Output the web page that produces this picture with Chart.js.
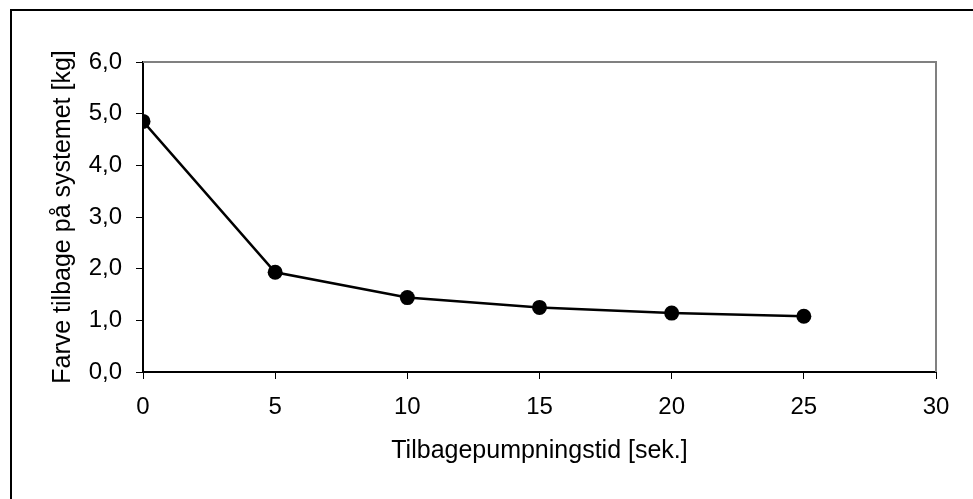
<!DOCTYPE html>
<html>
<head>
<meta charset="utf-8">
<script src="https://cdn.jsdelivr.net/npm/chart.js@4"></script>
<style>
  body { margin: 0; background: #fff; overflow: hidden; }
  #wrap { position: relative; width: 973px; height: 499px; }
  #frame { position: absolute; left: 10px; top: 9px; width: 1000px; height: 1000px;
           border-left: 2px solid #000; border-top: 2px solid #000; pointer-events: none; }
</style>
</head>
<body>
<div id="wrap">
  <canvas id="chart"></canvas>
  <div id="frame"></div>
</div>
<script>
// pumping time (sek.) and paint returned (kg)
const times = [0, 5, 10, 15, 20, 25];
const paintBack = [4.85, 1.93, 1.44, 1.25, 1.14, 1.08];

const xTitle = 'Tilbagepumpningstid [sek.]';
const yTitle = 'Farve tilbage på systemet [kg]';

const font = 'Liberation Sans, Arial, sans-serif';

// grey frame on top and right of the plot area
const plotFrame = {
    id: 'plotFrame',
    afterDraw(chart) {
        const { ctx, chartArea: a } = chart;
        ctx.save();
        ctx.strokeStyle = '#808080';
        ctx.lineWidth = 2;
        ctx.beginPath();
        ctx.moveTo(a.left, a.top);
        ctx.lineTo(a.right, a.top);
        ctx.lineTo(a.right, a.bottom);
        ctx.stroke();
        ctx.restore();
    }
};

const ctx = document.getElementById('chart').getContext('2d');
const myChart = new Chart(ctx, {
    type: 'line',
    data: {
        datasets: [{
            data: times.map((t, i) => ({ x: t, y: paintBack[i] })),
            borderColor: '#000',
            backgroundColor: '#000',
            borderWidth: 2.5,
            pointRadius: 7.5,
            pointBorderWidth: 0,
            pointBackgroundColor: '#000',
            tension: 0
        }]
    },
    options: {
        responsive: true,
        maintainAspectRatio: false,
        animation: false,
        layout: { padding: { left: 0, top: 62, right: 37, bottom: 0 } },
        plugins: {
            legend: { display: false },
            tooltip: { enabled: false }
        },
        scales: {
            x: {
                type: 'linear',
                min: 0,
                max: 30,
                ticks: {
                    stepSize: 5,
                    color: '#000',
                    padding: 14,
                    maxRotation: 0,
                    font: { family: font, size: 24 }
                },
                grid: { drawOnChartArea: false, tickLength: 7, color: '#000' },
                border: { color: '#000', width: 2 },
                title: {
                    display: true,
                    text: xTitle,
                    color: '#000',
                    padding: { top: 0, bottom: 33 },
                    font: { family: font, size: 25 }
                },
                afterFit(scale) { scale.height = 127; }
            },
            y: {
                min: 0,
                max: 6,
                ticks: {
                    stepSize: 1,
                    color: '#000',
                    padding: 14,
                    font: { family: font, size: 24 },
                    callback: v => v.toFixed(1).replace('.', ',')
                },
                grid: { drawOnChartArea: false, tickLength: 7, color: '#000' },
                border: { color: '#000', width: 2 },
                title: {
                    display: true,
                    text: yTitle,
                    color: '#000',
                    padding: { top: 48, bottom: 0 },
                    font: { family: font, size: 25 }
                },
                afterFit(scale) { scale.width = 143; }
            }
        }
    },
    plugins: [plotFrame]
});
</script>
</body>
</html>
